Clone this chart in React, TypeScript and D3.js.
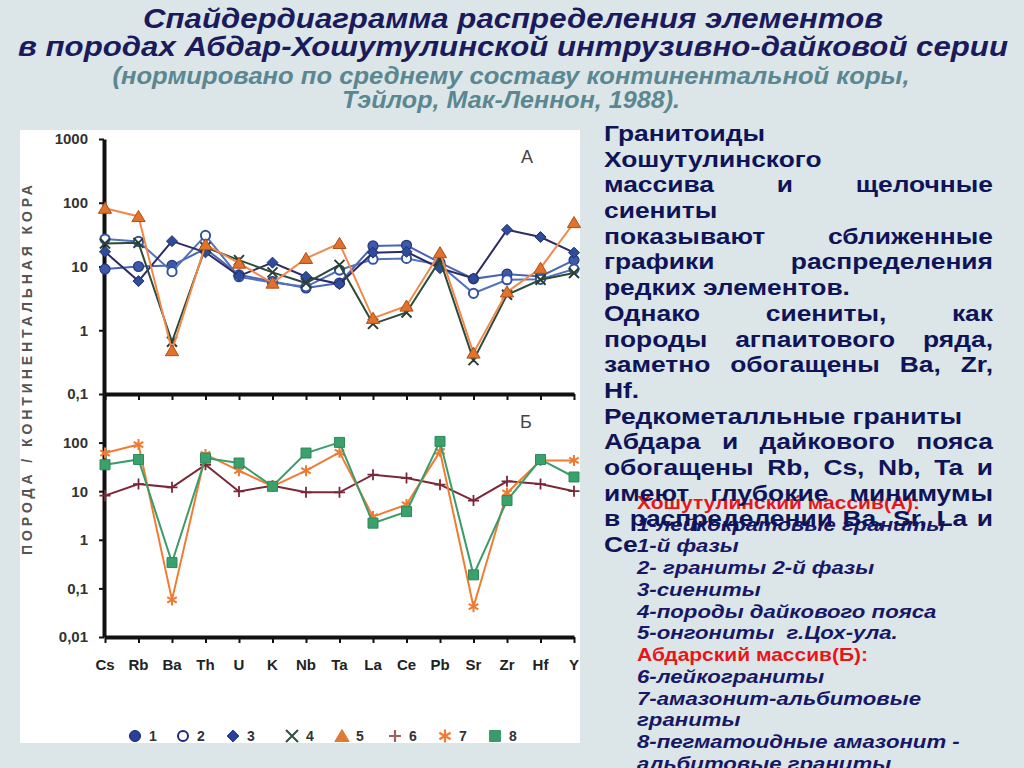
import React, { useEffect, useRef } from "react";
import * as d3 from "d3";

// elements on the x axis
const elements = ["Cs", "Rb", "Ba", "Th", "U", "K", "Nb", "Ta", "La", "Ce", "Pb", "Sr", "Zr", "Hf", "Y"];

// panel A (Хошутулинский массив)
const series1 = [9.1, 10, 10.4, 19, 7.4, 5.8, 4.6, 5.5, 21, 21.5, 11.5, 6.4, 7.6, 7.0, 12.6];
const series2 = [27, 24.7, 8.3, 30.7, 6.9, 5.6, 4.8, 8.8, 13, 13.4, 10.6, 3.8, 6.2, 6.3, 9.1];
const series3 = [17, 5.9, 25, 16.7, 7.1, 11.5, 6.9, 5.3, 16.5, 17, 9.4, 6.5, 37.6, 29, 16.5];
const series4 = [23, 23.5, 0.66, 20, 12.6, 8.1, 5.5, 10.6, 1.26, 1.9, 12.6, 0.34, 3.6, 6.2, 7.9];
const series5 = [82, 61, 0.48, 22, 11.3, 5.5, 13.4, 23, 1.54, 2.4, 16.5, 0.44, 4.0, 9.4, 49];

// panel Б (Абдарский массив)
const series6 = [8.1, 14, 12, 35, 9.9, 13, 9.5, 9.5, 21.9, 18.7, 13.6, 6.4, 16, 14, 10];
const series7 = [61, 91, 0.058, 57, 26.5, 12.6, 26.5, 63, 3.0, 5.3, 66, 0.042, 9.2, 43, 43];
const series8 = [35, 45, 0.34, 48, 38, 12.6, 61, 101, 2.2, 3.8, 106, 0.19, 6.4, 45, 19.6];

const ticksTop = [0.1, 1, 10, 100, 1000];
const ticksBottom = [0.01, 0.1, 1, 10, 100];

const titleLines = [
  "Спайдердиаграмма распределения элементов",
  "в породах Абдар-Хошутулинской интрузивно-дайковой серии",
];
const subtitleLines = [
  "(нормировано по среднему составу континентальной коры,",
  "Тэйлор, Мак-Леннон, 1988).",
];

// [text, justified]
const paraLines: [string, boolean][] = [
  ["Гранитоиды", false],
  ["Хошутулинского", false],
  ["массива и щелочные", true],
  ["сиениты", false],
  ["показывают сближенные", true],
  ["графики распределения", true],
  ["редких элементов.", false],
  ["Однако сиениты, как", true],
  ["породы агпаитового ряда,", true],
  ["заметно обогащены Ba, Zr,", true],
  ["Hf.", false],
  ["Редкометалльные граниты", false],
  ["Абдара и дайкового пояса", true],
  ["обогащены Rb, Cs, Nb, Ta и", true],
  ["имеют глубокие минимумы", true],
  ["в распределении Ba, Sr, La и", true],
  ["Ce", false],
];

// [text, is red header]
const legendLines: [string, boolean][] = [
  ["Хошутулинский массив(А):", true],
  ["1-лейкократовые граниты", false],
  ["1-й фазы", false],
  ["2- граниты 2-й фазы", false],
  ["3-сиениты", false],
  ["4-породы дайкового пояса", false],
  ["5-онгониты  г.Цох-ула.", false],
  ["Абдарский массив(Б):", true],
  ["6-лейкограниты", false],
  ["7-амазонит-альбитовые", false],
  ["граниты", false],
  ["8-пегматоидные амазонит -", false],
  ["альбитовые граниты", false],
];

const legendKeys = ["1", "2", "3", "4", "5", "6", "7", "8"];

type Marker = "circle" | "square" | "diamond" | "triangle" | "times" | "plus" | "asterisk";

function markerPath(type: Marker, r: number): string {
  switch (type) {
    case "circle":
      return d3.symbol(d3.symbolCircle, Math.PI * r * r)() as string;
    case "square":
      return d3.symbol(d3.symbolSquare, 4 * r * r)() as string;
    case "diamond":
      return `M0,${-r}L${r},0L0,${r}L${-r},0Z`;
    case "triangle":
      return `M0,${-r}L${r * 1.1},${r * 0.85}L${-r * 1.1},${r * 0.85}Z`;
    case "times":
      return `M${-r},${-r}L${r},${r}M${-r},${r}L${r},${-r}`;
    case "plus":
      return `M${-r},0L${r},0M0,${-r}L0,${r}`;
    case "asterisk": {
      const c = Math.cos(Math.PI / 6) * r;
      const s = Math.sin(Math.PI / 6) * r;
      return `M0,${-r}L0,${r}M${-c},${-s}L${c},${s}M${-c},${s}L${c},${-s}`;
    }
  }
}

const App: React.FC = () => {
  const svgRef = useRef<SVGSVGElement>(null);

  useEffect(() => {
    const svg = d3.select(svgRef.current);
    svg.selectAll("*").remove();

    svg.append("rect").attr("width", 1024).attr("height", 768).attr("fill", "#dce6e9");

    // title
    const titleG = svg.append("g").attr("font-family", "'Liberation Sans Narrow', 'Liberation Sans', Arial, sans-serif")
      .attr("font-weight", "bold").attr("font-style", "italic").attr("text-anchor", "middle");
    const titleW = [740, 990];
    const titleY = [28, 56];
    titleLines.forEach((t, i) => {
      titleG.append("text").attr("x", 513).attr("y", titleY[i]).attr("font-size", 28)
        .attr("fill", "#1a1a5c").attr("textLength", titleW[i]).attr("lengthAdjust", "spacingAndGlyphs").text(t);
    });
    const subW = [797, 338];
    const subY = [84, 108];
    subtitleLines.forEach((t, i) => {
      titleG.append("text").attr("x", 511).attr("y", subY[i]).attr("font-size", 23)
        .attr("fill", "#5b8790").attr("textLength", subW[i]).attr("lengthAdjust", "spacingAndGlyphs").text(t);
    });

    // chart panel
    svg.append("rect").attr("x", 20).attr("y", 130).attr("width", 560).attr("height", 613).attr("fill", "#ffffff");

    const x = d3.scalePoint<string>().domain(elements).range([105, 574]);
    const yTop = d3.scaleLog().domain([0.1, 1000]).range([394, 139]);
    const yBot = d3.scaleLog().domain([0.01, 1000]).range([637, 394]);
    const fmt = (d: any) => String(d).replace(".", ",");

    const axisFont = "'Liberation Sans', Arial, sans-serif";

    const styleAxis = (g: any) => {
      g.select(".domain").attr("stroke", "#111").attr("stroke-width", 4);
      g.selectAll(".tick line").attr("stroke", "#111").attr("stroke-width", 2);
      g.selectAll(".tick text").attr("font-family", axisFont).attr("font-weight", "bold")
        .attr("font-size", 15).attr("fill", "#333");
    };

    svg.append("g").attr("transform", "translate(104,0)")
      .call(d3.axisLeft(yTop).tickValues(ticksTop).tickFormat(fmt).tickSize(5).tickSizeOuter(0).tickPadding(11))
      .call(styleAxis);
    svg.append("g").attr("transform", "translate(104,0)")
      .call(d3.axisLeft(yBot).tickValues(ticksBottom).tickFormat(fmt).tickSize(5).tickSizeOuter(0).tickPadding(11))
      .call(styleAxis);
    svg.append("g").attr("transform", "translate(0,394)")
      .call(d3.axisBottom(x).tickSize(6).tickSizeOuter(0).tickFormat(() => ""))
      .call(styleAxis);
    svg.append("g").attr("transform", "translate(0,637)")
      .call(d3.axisBottom(x).tickSize(6).tickSizeOuter(0).tickFormat(() => ""))
      .call(styleAxis);

    svg.append("g").selectAll("text").data(elements).join("text")
      .attr("x", (d) => x(d) as number).attr("y", 670).attr("text-anchor", "middle")
      .attr("font-family", axisFont).attr("font-weight", "bold").attr("font-size", 15).attr("fill", "#222")
      .text((d) => d);

    // y axis title
    svg.append("text").attr("transform", "translate(32,370) rotate(-90)").attr("text-anchor", "middle")
      .attr("font-family", axisFont).attr("font-weight", "bold").attr("font-size", 14).attr("fill", "#555")
      .attr("textLength", 370).attr("lengthAdjust", "spacing")
      .text("ПОРОДА / КОНТИНЕНТАЛЬНАЯ КОРА");

    svg.append("text").attr("x", 527).attr("y", 163).attr("text-anchor", "middle").attr("font-family", axisFont)
      .attr("font-size", 18).attr("fill", "#444").text("А");
    svg.append("text").attr("x", 526).attr("y", 428).attr("text-anchor", "middle").attr("font-family", axisFont)
      .attr("font-size", 18).attr("fill", "#444").text("Б");

    const series = [
      { v: series1, y: yTop, m: "circle" as Marker, r: 5, line: "#4965b4", fill: "#3d5aa8", stroke: "#25397f", sw: 1.2 },
      { v: series2, y: yTop, m: "circle" as Marker, r: 4.6, line: "#5372bb", fill: "#ffffff", stroke: "#3453a3", sw: 2 },
      { v: series3, y: yTop, m: "diamond" as Marker, r: 5.5, line: "#2c2b68", fill: "#2e4c99", stroke: "#22306f", sw: 1 },
      { v: series4, y: yTop, m: "times" as Marker, r: 5, line: "#2e4b3a", fill: "none", stroke: "#2a3f33", sw: 2 },
      { v: series5, y: yTop, m: "triangle" as Marker, r: 6, line: "#f08a4c", fill: "#e2712c", stroke: "#a9521e", sw: 1 },
      { v: series6, y: yBot, m: "plus" as Marker, r: 5.5, line: "#7a2838", fill: "none", stroke: "#7a2838", sw: 1.8 },
      { v: series7, y: yBot, m: "asterisk" as Marker, r: 5.5, line: "#f07c34", fill: "none", stroke: "#ef7a30", sw: 2 },
      { v: series8, y: yBot, m: "square" as Marker, r: 5, line: "#3a9c6a", fill: "#3aa06c", stroke: "#2f8a5a", sw: 1 },
    ];

    const plot = svg.append("g");
    series.forEach((s) => {
      const line = d3.line<number>().x((_, i) => x(elements[i]) as number).y((d) => s.y(d));
      plot.append("path").attr("d", line(s.v)).attr("fill", "none").attr("stroke", s.line).attr("stroke-width", 2);
      plot.append("g").selectAll("path").data(s.v).join("path")
        .attr("transform", (d, i) => `translate(${x(elements[i])},${s.y(d)})`)
        .attr("d", markerPath(s.m, s.r)).attr("fill", s.fill).attr("stroke", s.stroke).attr("stroke-width", s.sw);
    });

    // legend under the chart
    const legendMarkX = [135, 183, 233, 292, 342, 395, 445, 495];
    const legendColors = [
      { m: "circle" as Marker, r: 5.5, fill: "#2a3f9a", stroke: "#18266a", sw: 1 },
      { m: "circle" as Marker, r: 5, fill: "#ffffff", stroke: "#1c2a7a", sw: 2 },
      { m: "diamond" as Marker, r: 6, fill: "#2a3f9a", stroke: "#2a3f9a", sw: 1 },
      { m: "times" as Marker, r: 6, fill: "none", stroke: "#2f4f3f", sw: 2 },
      { m: "triangle" as Marker, r: 6.5, fill: "#e07a30", stroke: "#e07a30", sw: 1 },
      { m: "plus" as Marker, r: 6, fill: "none", stroke: "#a0605a", sw: 2.2 },
      { m: "asterisk" as Marker, r: 6.5, fill: "none", stroke: "#f07a30", sw: 2.2 },
      { m: "square" as Marker, r: 5.5, fill: "#3a9a6a", stroke: "#3a9a6a", sw: 1 },
    ];
    const legend = svg.append("g");
    legendKeys.forEach((k, i) => {
      const c = legendColors[i];
      legend.append("path").attr("transform", `translate(${legendMarkX[i]},736)`).attr("d", markerPath(c.m, c.r))
        .attr("fill", c.fill).attr("stroke", c.stroke).attr("stroke-width", c.sw);
      legend.append("text").attr("x", legendMarkX[i] + 14).attr("y", 741).attr("font-family", axisFont)
        .attr("font-weight", "bold").attr("font-size", 14).attr("fill", "#333").text(k);
    });

    // legend list on the right (drawn under the paragraph)
    const sxList = 1.2;
    const listG = svg.append("g").attr("transform", `translate(637,0) scale(${sxList},1)`)
      .attr("font-family", axisFont).attr("font-weight", "bold");
    legendLines.forEach(([t, red], i) => {
      listG.append("text").attr("x", 0).attr("y", 509 + i * 21.75)
        .attr("font-size", red ? 17.5 : 18.5).attr("font-style", red ? "normal" : "italic")
        .attr("fill", red ? "#e8161a" : "#171766").attr("xml:space", "preserve").text(t);
    });

    // main paragraph, justified
    const sx = 1.2;
    const paraLeft = 604;
    const paraWidth = 389 / sx;
    const paraG = svg.append("g").attr("transform", `translate(${paraLeft},0) scale(${sx},1)`)
      .attr("font-family", axisFont).attr("font-weight", "bold").attr("font-size", 22).attr("fill", "#0f1459");
    paraLines.forEach(([t, just], i) => {
      const y = 141 + i * 25.7;
      const text = paraG.append("text").attr("y", y);
      if (!just) {
        text.attr("x", 0).text(t);
        return;
      }
      const words = t.split(" ");
      const spans = words.map((w) => text.append("tspan").text(w));
      const widths = spans.map((s) => (s.node() as SVGTSpanElement).getComputedTextLength());
      const total = d3.sum(widths);
      const gap = (paraWidth - total) / (words.length - 1);
      let cx = 0;
      spans.forEach((s, j) => {
        s.attr("x", cx);
        cx += widths[j] + gap;
      });
    });
  }, []);

  return (
    <div style={{ position: "absolute", left: 0, top: 0 }}>
      <svg ref={svgRef} width={1024} height={768} style={{ display: "block" }} />
    </div>
  );
};

export default App;
